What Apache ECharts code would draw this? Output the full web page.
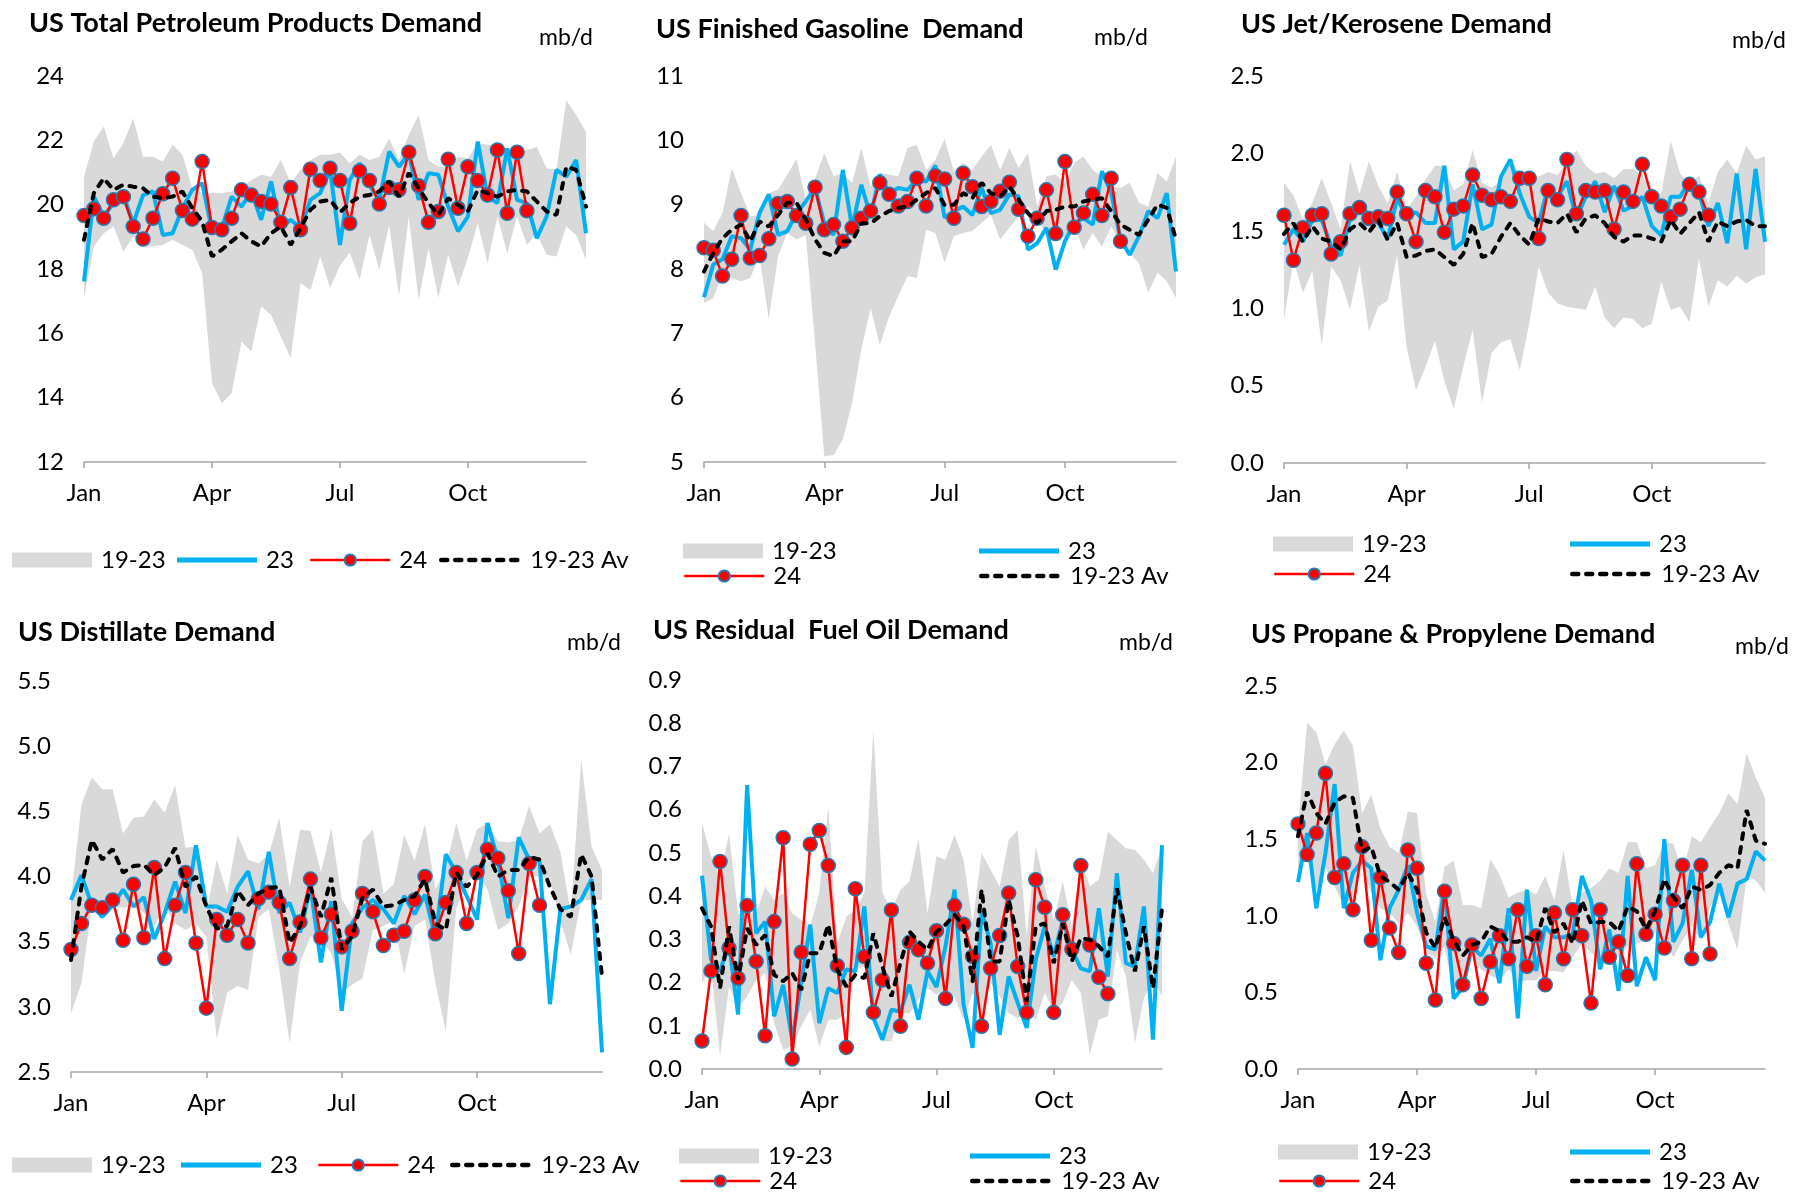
<!DOCTYPE html>
<html>
<head>
<meta charset="utf-8">
<script src="https://cdn.jsdelivr.net/npm/echarts@6/dist/echarts.min.js"></script>
<style>
html,body{margin:0;padding:0;background:#fff;}
#chart{width:1810px;height:1196px;}
</style>
</head>
<body>
<div id="chart"></div>
<script>
// weekly categories, month labels every 13 weeks
const weeks = Array.from({length: 52}, (_, i) => 'W' + (i + 1));
const monthTicks = ['Jan', 'Apr', 'Jul', 'Oct'];

// US Total Petroleum Products
const totHi = [20.87,21.96,22.43,21.44,21.91,22.69,21.49,21.49,21.34,21.86,21.55,20.51,20.36,20.36,20.36,20.41,20.56,20.77,20.93,20.87,21.39,20.67,21.08,21.39,21.55,21.55,21.62,21.29,21.55,21.39,21.49,22.06,21.39,22.17,22.79,21.39,21.18,21.18,21.49,21.44,21.91,21.86,21.80,21.75,21.65,21.70,21.79,21.13,21.08,23.25,22.79,22.27];
const totLo = [17.10,18.70,19.11,19.32,18.54,19.01,18.70,18.70,18.75,18.91,18.75,18.60,17.87,14.46,13.83,14.14,15.75,15.44,16.84,16.58,15.90,15.23,17.56,17.35,18.39,17.41,18.10,18.51,17.66,19.06,17.98,19.37,17.15,19.63,17.04,18.65,17.10,18.44,17.46,18.34,19.42,18.18,19.63,18.49,19.63,18.75,19.11,18.44,18.39,19.32,19.06,18.29];
const tot23 = [17.61,20.25,19.63,20.05,20.30,19.42,20.30,20.41,19.06,19.11,19.89,20.46,20.67,19.22,19.27,20.25,19.94,20.41,19.53,20.72,19.27,19.53,19.27,20.15,20.36,21.08,18.75,20.77,21.29,20.60,20.15,21.65,21.18,21.60,20.15,20.98,20.93,19.94,19.17,19.63,21.96,20.25,20.05,21.75,20.15,20.05,18.96,19.63,21.08,20.87,21.39,19.11];
const tot24 = [19.66,19.87,19.58,20.15,20.25,19.32,18.93,19.58,20.34,20.82,19.82,19.55,21.34,19.29,19.22,19.58,20.46,20.30,20.10,20.02,19.45,20.53,19.22,21.10,20.75,21.13,20.75,19.42,21.05,20.75,20.02,20.53,20.46,21.63,20.59,19.45,19.79,21.41,19.89,21.18,20.75,20.30,21.70,19.73,21.63,19.81];
const totAvg = [18.91,20.36,20.82,20.46,20.62,20.56,20.51,20.25,20.20,20.25,20.41,19.89,19.48,18.39,18.60,18.86,19.11,18.86,18.70,19.11,19.32,18.75,19.27,19.84,20.10,20.15,19.76,20.05,20.25,20.30,20.41,20.72,20.25,20.98,20.51,20.05,19.68,20.20,19.99,19.79,20.46,20.36,20.25,20.41,20.46,20.41,20.10,19.79,19.68,21.18,21.08,19.94];

// US Finished Gasoline
const gasHi = [8.72,8.59,8.87,9.57,9.18,8.82,8.84,9.18,9.23,9.47,9.71,9.08,9.41,9.80,9.44,9.49,9.34,9.88,9.28,9.49,9.47,9.44,9.88,9.93,9.54,9.70,10.02,9.52,9.65,9.54,9.75,9.93,9.54,9.88,9.57,9.80,8.97,9.44,9.47,9.34,9.65,9.75,9.54,9.44,9.28,9.26,9.34,9.03,8.97,9.49,9.36,9.75];
const gasLo = [7.47,7.55,7.94,7.86,7.81,7.86,8.20,7.22,8.20,8.56,8.46,8.53,6.85,5.09,5.11,5.35,5.92,6.75,7.39,6.82,7.26,7.58,7.89,7.86,8.61,8.56,8.10,8.51,8.56,8.59,8.72,8.84,8.46,8.64,8.82,8.97,8.82,8.51,8.61,8.46,8.66,8.30,8.56,8.35,8.66,8.40,8.25,8.09,7.63,7.94,7.81,7.55];
const gas23 = [7.56,8.07,8.15,8.51,8.48,8.30,8.87,9.16,8.53,8.59,8.87,9.05,9.26,8.71,8.53,9.54,8.64,9.31,8.82,9.47,9.18,9.26,9.23,9.39,9.36,9.61,8.80,8.90,8.97,8.84,9.26,8.87,8.92,9.16,9.13,8.30,8.40,8.64,7.99,8.43,8.71,8.79,8.69,9.52,9.18,8.46,8.22,8.51,8.90,8.79,9.18,7.96];
const gas24 = [8.33,8.29,7.89,8.15,8.83,8.17,8.21,8.47,9.02,9.05,8.83,8.71,9.27,8.61,8.69,8.43,8.64,8.79,8.90,9.34,9.16,8.98,9.05,9.41,8.98,9.45,9.40,8.79,9.49,9.28,8.97,9.05,9.21,9.35,8.93,8.51,8.79,9.23,8.55,9.67,8.65,8.87,9.16,8.83,9.41,8.43];
const gasAvg = [7.96,8.25,8.48,8.61,8.69,8.43,8.74,8.66,8.84,9.03,9.03,8.77,8.46,8.25,8.20,8.43,8.43,8.71,8.71,8.82,8.90,8.95,8.97,9.08,9.18,9.26,8.99,9.00,9.18,9.10,9.34,9.18,9.13,9.28,9.08,8.87,8.71,8.90,8.92,8.97,8.97,9.05,9.08,9.10,8.90,8.69,8.61,8.53,8.77,9.00,8.95,8.46];

// US Jet/Kerosene
const jetHi = [1.81,1.73,1.57,1.68,1.84,1.68,1.51,1.95,1.74,1.95,1.79,1.68,1.88,1.64,1.72,1.83,1.92,1.92,1.76,1.80,2.02,1.81,1.78,1.82,1.96,1.87,1.86,1.85,1.88,1.86,1.94,2.02,1.92,1.87,1.88,1.84,1.90,1.90,1.86,1.75,1.74,2.08,1.87,1.79,1.86,1.68,1.88,1.96,1.87,2.05,1.96,1.98];
const jetLo = [0.93,1.31,1.10,1.24,0.76,1.27,1.18,0.99,1.28,0.85,1.01,1.05,1.34,0.75,0.47,0.62,0.79,0.53,0.35,0.62,0.86,0.39,0.71,0.78,0.80,0.60,0.90,1.27,1.10,1.03,1.01,1.00,0.99,1.14,0.94,0.87,0.94,0.93,0.87,0.90,1.17,0.99,1.01,0.91,1.32,1.01,1.18,1.14,1.21,1.16,1.20,1.22];
const jet23 = [1.41,1.51,1.43,1.57,1.57,1.40,1.34,1.58,1.65,1.61,1.55,1.45,1.71,1.59,1.62,1.55,1.55,1.92,1.38,1.43,1.80,1.51,1.54,1.85,1.96,1.74,1.59,1.55,1.78,1.72,1.82,1.58,1.72,1.82,1.62,1.79,1.63,1.66,1.72,1.53,1.47,1.72,1.72,1.82,1.75,1.53,1.68,1.42,1.87,1.38,1.90,1.43];
const jet24 = [1.60,1.31,1.52,1.60,1.61,1.35,1.43,1.61,1.65,1.58,1.59,1.58,1.75,1.61,1.43,1.76,1.72,1.49,1.64,1.66,1.86,1.73,1.70,1.72,1.69,1.84,1.84,1.45,1.76,1.70,1.96,1.61,1.76,1.75,1.76,1.51,1.75,1.69,1.93,1.72,1.66,1.59,1.64,1.80,1.75,1.60];
const jetAvg = [1.48,1.55,1.43,1.53,1.45,1.43,1.38,1.51,1.55,1.49,1.57,1.44,1.55,1.33,1.34,1.37,1.38,1.33,1.28,1.35,1.55,1.33,1.35,1.46,1.55,1.47,1.41,1.58,1.56,1.55,1.61,1.49,1.58,1.60,1.55,1.46,1.43,1.47,1.47,1.45,1.43,1.57,1.48,1.55,1.62,1.43,1.56,1.53,1.56,1.57,1.53,1.53];

// US Distillate
const dstHi = [3.82,4.55,4.76,4.67,4.67,4.33,4.45,4.46,4.59,4.49,4.70,4.22,4.23,3.72,4.13,3.87,4.32,4.13,4.10,4.17,4.45,3.92,4.36,4.35,4.03,4.37,3.83,3.69,4.27,4.36,3.87,3.94,4.32,4.12,4.40,3.90,4.07,4.41,4.12,4.36,4.41,4.27,4.26,4.28,4.54,4.33,4.40,4.19,3.72,4.90,4.23,4.05];
const dstLo = [2.95,3.18,3.77,3.72,3.77,3.76,3.77,3.72,3.62,3.77,3.64,3.59,3.64,3.54,2.75,3.11,3.16,3.13,3.69,3.75,3.29,2.72,3.34,3.54,3.52,3.41,3.11,3.17,3.22,3.59,3.62,3.66,3.25,3.62,3.67,3.18,2.81,3.75,3.95,4.03,3.90,3.59,3.64,3.77,4.00,4.00,3.98,3.66,3.40,3.82,3.82,3.82];
const dst23 = [3.82,4.01,3.78,3.69,3.78,3.90,3.77,3.84,3.52,3.72,3.96,3.72,4.24,3.77,3.77,3.73,3.92,4.04,3.75,4.19,3.72,3.80,3.57,3.92,3.34,3.81,2.97,3.64,3.76,3.82,3.75,3.64,3.85,3.71,3.86,3.53,4.17,4.03,3.85,3.67,4.41,4.13,3.68,4.30,4.13,4.12,3.02,3.75,3.77,3.82,3.98,2.65];
const dst24 = [3.44,3.64,3.78,3.76,3.82,3.51,3.94,3.53,4.07,3.37,3.78,4.03,3.49,2.99,3.67,3.55,3.67,3.49,3.83,3.88,3.80,3.37,3.65,3.98,3.53,3.71,3.46,3.58,3.87,3.73,3.47,3.55,3.58,3.82,4.00,3.56,3.80,4.03,3.64,4.03,4.21,4.14,3.89,3.41,4.10,3.78];
const dstAvg = [3.36,3.92,4.28,4.13,4.21,4.03,4.08,4.09,4.01,4.07,4.22,3.92,4.00,3.77,3.60,3.62,3.89,3.78,3.87,3.91,3.92,3.49,3.62,3.92,3.69,3.99,3.44,3.54,3.84,3.90,3.77,3.78,3.82,3.85,3.98,3.64,3.59,4.03,3.92,4.01,4.18,4.00,4.05,4.05,4.15,4.13,3.92,3.75,3.69,4.17,4.00,3.23];

// US Residual Fuel Oil
const rflHi = [0.569,0.492,0.445,0.545,0.36,0.364,0.36,0.422,0.391,0.407,0.36,0.345,0.33,0.407,0.607,0.291,0.353,0.368,0.407,0.784,0.407,0.368,0.414,0.434,0.534,0.36,0.492,0.484,0.542,0.484,0.337,0.499,0.461,0.422,0.53,0.553,0.307,0.515,0.422,0.345,0.434,0.33,0.484,0.422,0.438,0.549,0.53,0.511,0.507,0.484,0.453,0.515];
const rflLo = [0.199,0.237,0.029,0.191,0.141,0.168,0.206,0.222,0.106,0.045,0.052,0.099,0.137,0.052,0.114,0.114,0.129,0.23,0.237,0.126,0.064,0.064,0.129,0.129,0.16,0.187,0.172,0.187,0.168,0.114,0.176,0.129,0.199,0.168,0.129,0.118,0.129,0.114,0.176,0.133,0.153,0.206,0.176,0.033,0.114,0.122,0.276,0.214,0.06,0.164,0.206,0.168];
const rfl23 = [0.447,0.253,0.226,0.291,0.126,0.657,0.314,0.341,0.122,0.195,0.068,0.199,0.334,0.106,0.187,0.176,0.23,0.226,0.376,0.118,0.068,0.137,0.133,0.195,0.114,0.226,0.19,0.284,0.415,0.149,0.049,0.364,0.291,0.079,0.214,0.153,0.095,0.253,0.33,0.26,0.345,0.276,0.233,0.226,0.372,0.214,0.453,0.245,0.237,0.376,0.068,0.518];
const rfl24 = [0.065,0.227,0.48,0.28,0.21,0.378,0.249,0.077,0.341,0.535,0.023,0.27,0.52,0.552,0.471,0.239,0.05,0.417,0.26,0.131,0.206,0.368,0.099,0.293,0.276,0.245,0.32,0.163,0.378,0.335,0.26,0.099,0.233,0.309,0.407,0.237,0.131,0.438,0.374,0.131,0.357,0.277,0.471,0.287,0.212,0.174];
const rflAvg = [0.372,0.33,0.187,0.33,0.206,0.326,0.287,0.31,0.218,0.203,0.222,0.183,0.268,0.268,0.334,0.23,0.191,0.218,0.21,0.314,0.237,0.168,0.245,0.318,0.295,0.276,0.318,0.334,0.357,0.33,0.203,0.415,0.249,0.249,0.391,0.307,0.156,0.33,0.337,0.245,0.337,0.249,0.303,0.299,0.284,0.26,0.418,0.314,0.226,0.33,0.187,0.372];

// US Propane & Propylene
const lpgHi = [1.58,2.26,2.20,1.99,2.12,2.21,2.11,1.67,1.79,1.57,1.45,1.41,1.68,1.67,1.14,0.96,1.32,1.36,1.07,1.07,1.05,1.37,1.27,1.12,1.15,1.17,1.14,1.26,1.10,1.43,1.06,1.15,1.18,1.23,1.31,1.28,1.48,1.48,1.31,1.33,1.48,1.47,1.28,1.52,1.48,1.58,1.67,1.80,1.73,2.06,1.90,1.77];
const lpgLo = [1.28,1.39,1.17,1.32,1.19,1.06,1.10,1.32,1.15,1.05,1.02,0.95,1.02,0.93,0.76,0.73,0.80,0.50,0.51,0.73,0.65,0.61,0.58,0.65,0.57,0.58,0.58,0.64,0.64,0.63,0.73,0.82,0.76,0.71,0.78,0.73,0.80,0.82,0.84,0.89,0.84,0.73,0.84,0.93,0.84,1.06,1.15,0.95,0.78,1.26,1.23,1.15];
const lpg23 = [1.22,1.54,1.05,1.41,1.86,1.05,1.28,1.36,1.31,0.71,1.05,1.17,1.33,1.02,0.80,0.78,1.19,0.46,0.53,0.80,0.74,0.85,0.56,1.05,0.33,1.17,0.64,0.93,0.86,0.86,0.88,1.26,1.10,0.65,0.91,0.51,1.26,0.54,0.73,0.58,1.50,0.83,0.95,1.30,0.86,0.96,1.21,0.99,1.21,1.24,1.42,1.36];
const lpg24 = [1.60,1.40,1.54,1.93,1.25,1.34,1.04,1.45,0.84,1.25,0.92,0.76,1.43,1.31,0.69,0.45,1.16,0.82,0.55,0.81,0.46,0.70,0.87,0.72,1.04,0.67,0.87,0.55,1.02,0.72,1.04,0.87,0.43,1.04,0.73,0.83,0.61,1.34,0.88,1.01,0.79,1.10,1.33,0.72,1.33,0.75];
const lpgAvg = [1.52,1.81,1.67,1.60,1.74,1.78,1.77,1.42,1.45,1.26,1.22,1.17,1.28,1.17,0.89,0.79,0.99,0.84,0.74,0.81,0.83,0.93,0.90,0.83,0.83,0.86,0.83,1.05,0.89,0.95,0.82,1.10,0.95,0.96,0.96,0.90,1.06,1.03,0.91,1.03,1.24,1.12,1.05,1.19,1.17,1.20,1.28,1.33,1.31,1.69,1.49,1.47];

const panels = [
  {title: 'US Total Petroleum Products Demand', tx: 29, ty: 23, ux: 566, uy: 38,
   box: [84, 76, 586, 462], min: 12, max: 24, step: 2, dec: 0,
   hi: totHi, lo: totLo, y23: tot23, y24: tot24, avg: totAvg,
   lx: [12, 177, 309, 439], ly: [560, 560, 560, 560]},
  {title: 'US Finished Gasoline  Demand', tx: 656, ty: 29, ux: 1121, uy: 38,
   box: [704, 76, 1176, 462], min: 5, max: 11, step: 1, dec: 0,
   hi: gasHi, lo: gasLo, y23: gas23, y24: gas24, avg: gasAvg,
   lx: [683, 979, 683, 979], ly: [551, 551, 576, 576]},
  {title: 'US Jet/Kerosene Demand', tx: 1241, ty: 24, ux: 1759, uy: 41,
   box: [1284, 76, 1765, 463], min: 0, max: 2.5, step: 0.5, dec: 1,
   hi: jetHi, lo: jetLo, y23: jet23, y24: jet24, avg: jetAvg,
   lx: [1273, 1570, 1273, 1570], ly: [544, 544, 574, 574]},
  {title: 'US Distillate Demand', tx: 18, ty: 632, ux: 594, uy: 643,
   box: [71, 681, 602, 1072], min: 2.5, max: 5.5, step: 0.5, dec: 1,
   hi: dstHi, lo: dstLo, y23: dst23, y24: dst24, avg: dstAvg,
   lx: [12, 181, 317, 450], ly: [1165, 1165, 1165, 1165]},
  {title: 'US Residual  Fuel Oil Demand', tx: 653, ty: 630, ux: 1146, uy: 643,
   box: [702, 680, 1162, 1069], min: 0, max: 0.9, step: 0.1, dec: 1,
   hi: rflHi, lo: rflLo, y23: rfl23, y24: rfl24, avg: rflAvg,
   lx: [679, 970, 679, 970], ly: [1156, 1156, 1181, 1181]},
  {title: 'US Propane & Propylene Demand', tx: 1251, ty: 634, ux: 1762, uy: 647,
   box: [1298, 686, 1765, 1069], min: 0, max: 2.5, step: 0.5, dec: 1,
   hi: lpgHi, lo: lpgLo, y23: lpg23, y24: lpg24, avg: lpgAvg,
   lx: [1278, 1570, 1278, 1570], ly: [1152, 1152, 1181, 1181]}
];

const FONT = 'Lato';
const BLUE = '#00b0f0', RED = '#ff0000', BAND = '#d9d9d9', AXIS = '#a6a6a6';

const grid = [], xAxis = [], yAxis = [], series = [], legend = [], graphic = [];

panels.forEach((p, i) => {
  const [x0, y0, x1, y1] = p.box;
  grid.push({left: x0, top: y0, width: x1 - x0, height: y1 - y0, containLabel: false});
  xAxis.push({
    type: 'category', gridIndex: i, data: weeks, boundaryGap: false,
    axisLine: {lineStyle: {color: AXIS, width: 1.5}},
    axisTick: {show: true, length: 6, interval: idx => idx % 13 === 0, lineStyle: {color: AXIS, width: 1.5}},
    axisLabel: {
      interval: idx => idx % 13 === 0,
      formatter: (v, idx) => monthTicks[idx / 13] || '',
      fontSize: 24, fontFamily: FONT, color: '#000', margin: 19
    },
    splitLine: {show: false}
  });
  yAxis.push({
    type: 'value', gridIndex: i, min: p.min, max: p.max, interval: p.step,
    axisLine: {show: false}, axisTick: {show: false}, splitLine: {show: false},
    axisLabel: {fontSize: 24, fontFamily: FONT, color: '#000', margin: 20,
      formatter: v => v.toFixed(p.dec)}
  });

  const common = {type: 'line', xAxisIndex: i, yAxisIndex: i, animation: false, emphasis: {disabled: true}};
  series.push(Object.assign({}, common, {
    name: 'lo', data: p.lo, stack: 'band' + i, stackStrategy: 'all',
    symbol: 'none', lineStyle: {opacity: 0}, silent: true, z: 1
  }));
  series.push(Object.assign({}, common, {
    name: '19-23', data: p.hi.map((v, k) => +(v - p.lo[k]).toFixed(3)),
    stack: 'band' + i, stackStrategy: 'all',
    symbol: 'none', lineStyle: {opacity: 0}, areaStyle: {color: BAND, opacity: 1}, z: 1
  }));
  series.push(Object.assign({}, common, {
    name: '23', data: p.y23, symbol: 'none',
    lineStyle: {color: BLUE, width: 4}, itemStyle: {color: BLUE}, z: 2
  }));
  series.push(Object.assign({}, common, {
    name: '24', data: p.y24, symbol: 'circle', symbolSize: 14,
    showSymbol: true, showAllSymbol: true,
    lineStyle: {color: RED, width: 2.5},
    itemStyle: {color: RED, borderColor: '#2a78ad', borderWidth: 1.5}, z: 3
  }));
  series.push(Object.assign({}, common, {
    name: '19-23 Av', data: p.avg, symbol: 'none',
    lineStyle: {color: '#000', width: 4, type: [6, 8], cap: 'round'},
    itemStyle: {color: '#000'}, z: 4
  }));

  // legends: one component per entry so the 2x2 layout can be matched
  const base = {selectedMode: false, itemWidth: 80, padding: 0, itemGap: 0,
    textStyle: {fontSize: 24, fontFamily: FONT, color: '#000', padding: [0, 0, 0, 4]}};
  const h = [15, 5, 14, 10];
  const items = [
    {name: '19-23', icon: 'rect', itemStyle: {color: BAND, borderWidth: 0}},
    {name: '23', icon: 'rect', itemStyle: {color: BLUE, borderWidth: 0}},
    {name: '24'},
    {name: '19-23 Av'}
  ];
  items.forEach((it, k) => {
    const lg = Object.assign({}, base, {
      left: p.lx[k], top: p.ly[k] - 12, itemHeight: h[k], data: [it]
    });
    if (k === 2) lg.lineStyle = {width: 2.5};
    if (k === 3) { lg.lineStyle = {width: 4.5}; lg.itemStyle = {opacity: 0}; }
    legend.push(lg);
  });

  graphic.push({type: 'text', x: p.tx, y: p.ty,
    style: {text: p.title, font: 'bold 27px ' + FONT, fill: '#000',
      textAlign: 'left', textVerticalAlign: 'middle', align: 'left', verticalAlign: 'middle'}});
  graphic.push({type: 'text', x: p.ux, y: p.uy,
    style: {text: 'mb/d', font: '23px ' + FONT, fill: '#000',
      textAlign: 'center', textVerticalAlign: 'middle', align: 'center', verticalAlign: 'middle'}});
});

const chart = echarts.init(document.getElementById('chart'));
chart.setOption({
  animation: false,
  backgroundColor: '#fff',
  grid, xAxis, yAxis, series, legend, graphic
});
</script>
</body>
</html>
